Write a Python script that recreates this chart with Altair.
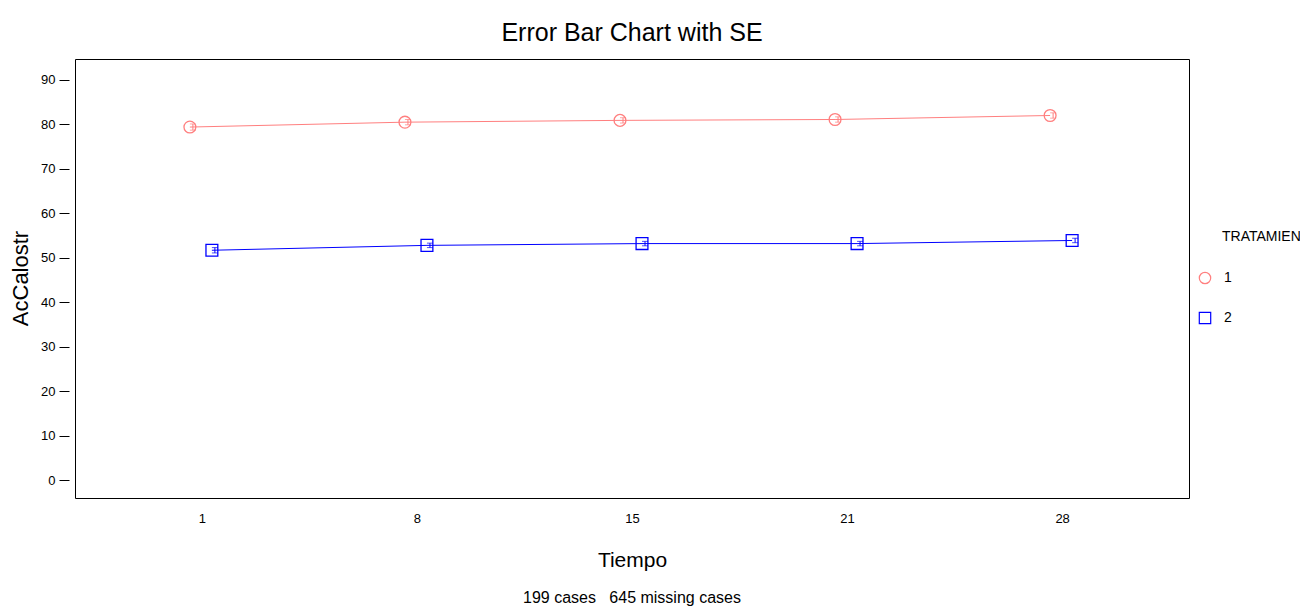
import altair as alt
import pandas as pd

tiempo = ["1", "8", "15", "21", "28"]
groups = ["1", "2"]
trat1_mean = [79.4, 80.5, 80.9, 81.1, 82.0]
trat1_se = [0.7, 0.6, 0.6, 0.6, 0.6]
trat2_mean = [51.7, 52.8, 53.2, 53.2, 53.9]
trat2_se = [0.6, 0.5, 0.5, 0.5, 0.5]
colors = ["#ff7f7f", "#0000ff"]
shapes = ["circle", "square"]
offsets = [-12, 10]

rows = []
for g, means, ses in [("1", trat1_mean, trat1_se), ("2", trat2_mean, trat2_se)]:
    for t, m, s in zip(tiempo, means, ses):
        rows.append({"Tiempo": t, "TRATAMIEN": g, "mean": m, "lo": m - s, "hi": m + s})
df = pd.DataFrame(rows)

FONT = "Liberation Sans"

x_enc = alt.X(
    "Tiempo:O", sort=tiempo,
    scale=alt.Scale(type="point", padding=0.59),
    axis=alt.Axis(ticks=False, domain=False, grid=False, labelAngle=0, labelPadding=14,
                  labelFontSize=13, labelFont=FONT, labelColor="black",
                  title="Tiempo", titleFontSize=21, titleFont=FONT, titleFontWeight="normal",
                  titleColor="black", titleY=62, titleBaseline="middle"),
)
y_scale = alt.Scale(domain=[-4, 94.7], nice=False, zero=False)
y_axis = alt.Axis(values=list(range(0, 100, 10)), tickSize=10, offset=6, domain=False, grid=False,
                  labelPadding=4, labelFontSize=13, labelFont=FONT, labelColor="black",
                  tickColor="black", title="AcCalostr", titleFontSize=22, titleFont=FONT,
                  titleFontWeight="normal", titleColor="black", titleX=-49, titleY=219,
                  titleBaseline="middle", titleAlign="center")

base = alt.Chart(df)
layers = []
for i, g in enumerate(groups):
    sub = base.transform_filter(alt.datum.TRATAMIEN == g)
    off = offsets[i]
    layers.append(sub.mark_line(strokeWidth=1, xOffset=off).encode(
        x=x_enc, y=alt.Y("mean:Q", scale=y_scale, axis=y_axis), color=alt.value(colors[i])))
    layers.append(sub.mark_rule(strokeWidth=1, xOffset=off + 3).encode(
        x=x_enc, y=alt.Y("lo:Q", scale=y_scale, axis=y_axis), y2="hi:Q", color=alt.value(colors[i])))
    for fld in ["lo", "hi"]:
        layers.append(sub.mark_tick(thickness=1, size=6, xOffset=off + 3, orient="horizontal").encode(
            x=x_enc, y=alt.Y(f"{fld}:Q", scale=y_scale, axis=y_axis), color=alt.value(colors[i])))

legend = alt.Legend(title=None, orient="none", legendX=1123, legendY=212,
                    labelFont=FONT, labelFontSize=14, labelColor="black",
                    labelOffset=12, rowPadding=22, symbolStrokeWidth=1.2, symbolSize=130)

pts_layers = []
for i, g in enumerate(groups):
    pts_layers.append(base.transform_filter(alt.datum.TRATAMIEN == g).mark_point(
        filled=False, size=140, strokeWidth=1.3, opacity=1, xOffset=offsets[i]).encode(
        x=x_enc,
        y=alt.Y("mean:Q", scale=y_scale, axis=y_axis),
        color=alt.Color("TRATAMIEN:N", scale=alt.Scale(domain=groups, range=colors), legend=legend),
        shape=alt.Shape("TRATAMIEN:N", scale=alt.Scale(domain=groups, range=shapes)),
    ))

legend_title = alt.Chart(pd.DataFrame({"t": ["TRATAMIEN"]})).mark_text(
    align="left", baseline="middle", font=FONT, fontSize=14, color="black").encode(
    text="t:N", x=alt.value(1147), y=alt.value(178))
footnote = alt.Chart(pd.DataFrame({"t": ["199 cases\u00a0\u00a0\u00a0645 missing cases"]})).mark_text(
    align="center", baseline="middle", font=FONT, fontSize=16, color="black").encode(
    text="t:N", x=alt.value(557), y=alt.value(539))

chart = alt.layer(*layers, *pts_layers, legend_title, footnote).properties(
    width=1114, height=439,
    title=alt.TitleParams("Error Bar Chart with SE", fontSize=25, font=FONT, fontWeight="normal",
                          anchor="middle", offset=13, color="black"),
    autosize=alt.AutoSizeParams(type="none"),
    padding={"left": 67, "top": 51, "right": 111, "bottom": 110},
).configure(background="white").configure_view(stroke="black", strokeWidth=1)

chart.save("out.html", embed_options={"renderer": "svg", "actions": False})
